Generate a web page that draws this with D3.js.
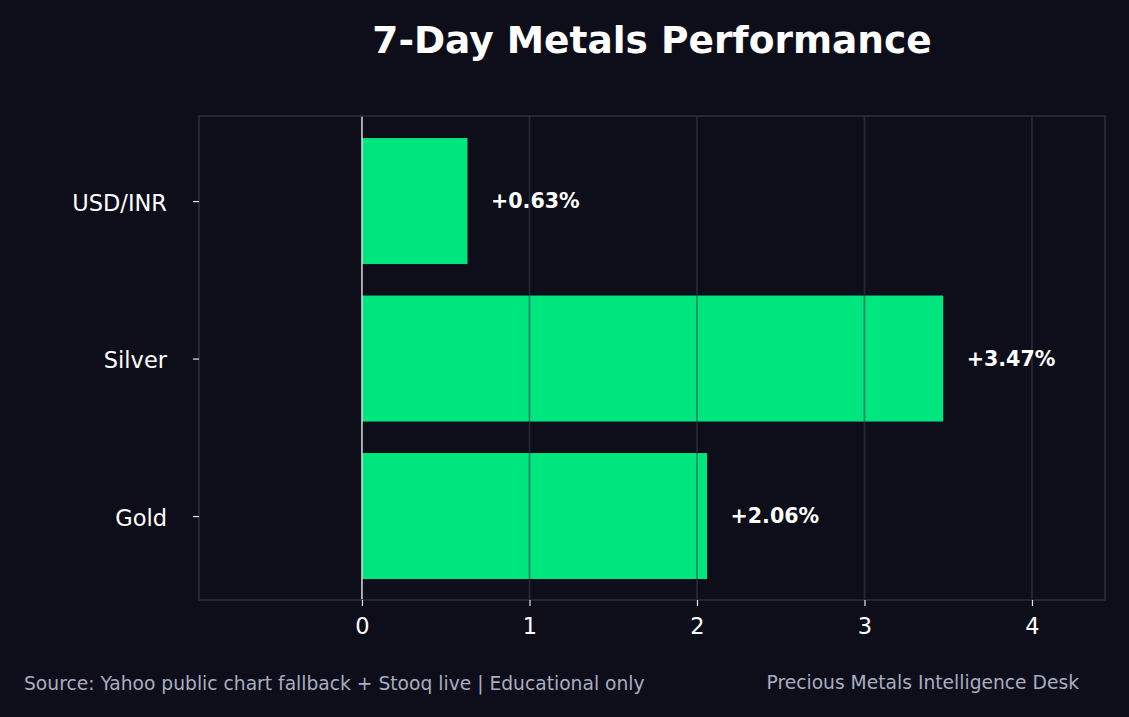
<!DOCTYPE html>
<html lang="en">
<head>
<meta charset="UTF-8" />
<title>7-Day Metals Performance</title>
<style>
  body { margin: 0; background: #0d0e1a; }
  svg { display: block; }
  svg text { font-family: "DejaVu Sans", sans-serif; }
</style>
</head>
<body>
<svg id="chart" width="1129" height="717"></svg>
<script src="https://d3js.org/d3.v7.min.js"></script>
<script>
// data (bottom to top, like the picture)
const assets = ['Gold', 'Silver', 'USD/INR'];
const changes = [2.06, 3.47, 0.63];
const xTicks = [0, 1, 2, 3, 4];

const W = 1129, H = 717;
const plot = { left: 199, right: 1105, top: 116, bottom: 600 };
const bg = '#0d0e1a';
const green = '#00e67e';

const svg = d3.select('#chart');
svg.append('rect').attr('width', W).attr('height', H).attr('fill', bg);

const x = d3.scaleLinear().domain([-0.973, 4.436]).range([plot.left, plot.right]);
const y = d3.scaleLinear().domain([-0.533, 2.54]).range([plot.bottom, plot.top]);
const barH = 0.8;

// bars
svg.append('g').selectAll('rect')
  .data(assets)
  .join('rect')
  .attr('x', x(0))
  .attr('y', (d, i) => y(i + barH / 2))
  .attr('width', (d, i) => x(changes[i]) - x(0))
  .attr('height', y(0) - y(barH))
  .attr('fill', green);

// vertical grid, drawn over bars
svg.append('g').selectAll('line')
  .data(xTicks.filter(t => t !== 0))
  .join('line')
  .attr('x1', d => x(d)).attr('x2', d => x(d))
  .attr('y1', plot.top).attr('y2', plot.bottom)
  .attr('stroke', '#3a3b4c')
  .attr('stroke-opacity', 0.55)
  .attr('stroke-width', 1.8);

// zero line
svg.append('line')
  .attr('x1', x(0)).attr('x2', x(0))
  .attr('y1', plot.top).attr('y2', plot.bottom)
  .attr('stroke', '#dcdce0').attr('stroke-width', 1.5);

// frame
svg.append('rect')
  .attr('x', plot.left).attr('y', plot.top)
  .attr('width', plot.right - plot.left).attr('height', plot.bottom - plot.top)
  .attr('fill', 'none').attr('stroke', '#2e2f3c').attr('stroke-width', 1.5);

// x axis
const xAxis = svg.append('g')
  .attr('transform', `translate(0,${plot.bottom})`)
  .call(d3.axisBottom(x).tickValues(xTicks).tickFormat(d3.format('d')).tickSize(6));
xAxis.select('.domain').remove();
xAxis.selectAll('line').attr('stroke', '#e6e6ea').attr('stroke-width', 1.2);
xAxis.selectAll('text')
  .attr('y', 34).attr('dy', null)
  .attr('fill', '#ffffff')
  .attr('font-family', '"DejaVu Sans", sans-serif')
  .attr('font-size', '22.5px');

// y axis
const yAxis = svg.append('g')
  .attr('transform', `translate(${plot.left},0)`)
  .call(d3.axisLeft(y).tickValues(d3.range(assets.length)).tickFormat(i => assets[i]).tickSize(6).tickPadding(26));
yAxis.select('.domain').remove();
yAxis.selectAll('line').attr('stroke', '#e6e6ea').attr('stroke-width', 1.2);
yAxis.selectAll('text')
  .attr('dy', '0.4em')
  .attr('fill', '#ffffff')
  .attr('font-family', '"DejaVu Sans", sans-serif')
  .attr('font-size', '22.5px');

// value labels
svg.append('g').selectAll('text')
  .data(assets)
  .join('text')
  .attr('x', (d, i) => x(changes[i]) + 23.5)
  .attr('y', (d, i) => y(i))
  .attr('dy', '0.34em')
  .attr('fill', '#ffffff')
  .attr('font-size', '20.6px')
  .attr('font-weight', 'bold')
  .text((d, i) => (changes[i] >= 0 ? '+' : '') + changes[i].toFixed(2) + '%');

// title
svg.append('text')
  .attr('x', 652).attr('y', 53)
  .attr('text-anchor', 'middle')
  .attr('fill', '#ffffff')
  .attr('font-size', '37.5px')
  .attr('font-weight', 'bold')
  .text('7-Day Metals Performance');

// footer
svg.append('text')
  .attr('x', 24).attr('y', 690)
  .attr('fill', '#a9adc0')
  .attr('font-size', '18.7px')
  .text('Source: Yahoo public chart fallback + Stooq live | Educational only');

svg.append('text')
  .attr('x', 1079).attr('y', 689)
  .attr('text-anchor', 'end')
  .attr('fill', '#a9adc0')
  .attr('font-size', '18.7px')
  .text('Precious Metals Intelligence Desk');
</script>
</body>
</html>
